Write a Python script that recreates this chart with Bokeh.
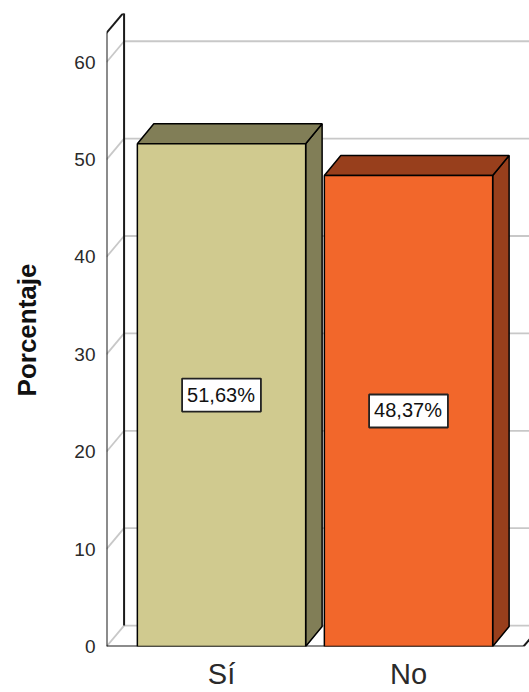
from bokeh.plotting import figure
from bokeh.models import ColumnDataSource, FixedTicker, Range1d
from bokeh.core.properties import value
from bokeh.embed import file_html
from bokeh.resources import INLINE

# ---- data ----
categories = ["Sí", "No"]
percentages = [51.63, 48.37]
y_ticks = [0, 10, 20, 30, 40, 50, 60]
axis_title = "Porcentaje"

# ---- styles ----
front_colors = ["#d0ca8f", "#f2672b"]
shade_colors = ["#817e57", "#983f1c"]
FONT = "Liberation Sans"
Y_TOP = 63.0            # top of the axis box
BAR_W = 0.9
X_LEFT, X_RIGHT = -0.615, 1.615
WALL_DX, WALL_DY = 0.094, 2.15
BAR_DX, BAR_DY = 0.088, 2.05

p = figure(width=529, height=692,
           x_range=Range1d(-0.615, 1.647), y_range=Range1d(0, 65.0),
           output_backend="svg", toolbar_location=None,
           min_border_left=106, min_border_right=0, min_border_top=13, min_border_bottom=45)
p.outline_line_color = None
p.xgrid.visible = False
p.ygrid.visible = False
p.background_fill_color = "white"
p.border_fill_color = "white"

# left axis: labels + title only
ya = p.yaxis[0]
ya.ticker = FixedTicker(ticks=y_ticks)
ya.axis_line_color = None
ya.major_tick_line_color = None
ya.minor_tick_line_color = None
ya.major_tick_out = 0
ya.major_tick_in = 0
ya.major_label_standoff = 11
ya.major_label_text_font = FONT
ya.major_label_text_font_size = "19px"
ya.major_label_text_color = "#2a2a2a"
ya.axis_label = axis_title
ya.axis_label_text_font = FONT
ya.axis_label_text_font_style = "bold"
ya.axis_label_text_font_size = "26px"
ya.axis_label_text_color = "#111111"
ya.axis_label_standoff = 29

# bottom axis: category names
xa = p.xaxis[0]
xa.ticker = FixedTicker(ticks=list(range(len(categories))))
xa.major_label_overrides = {i: c for i, c in enumerate(categories)}
xa.axis_line_color = None
xa.major_tick_line_color = None
xa.minor_tick_line_color = None
xa.major_tick_out = 0
xa.major_tick_in = 0
xa.major_label_standoff = 11
xa.major_label_text_font = FONT
xa.major_label_text_font_size = "29px"
xa.major_label_text_color = "#2a2a2a"

# ---- walls & grid ----
grid_col = "#c8c8c8"
edge_col = "#1a1a1a"
xb = X_LEFT + WALL_DX
p.segment(x0=[X_LEFT] * len(y_ticks), y0=y_ticks,
          x1=[xb] * len(y_ticks), y1=[t + WALL_DY for t in y_ticks],
          line_color=grid_col, line_width=1.8)
p.segment(x0=[xb] * len(y_ticks), y0=[t + WALL_DY for t in y_ticks],
          x1=[X_RIGHT + WALL_DX + 0.2] * len(y_ticks), y1=[t + WALL_DY for t in y_ticks],
          line_color=grid_col, line_width=1.8)
p.segment(x0=[X_LEFT, xb, X_LEFT, xb, X_LEFT, X_RIGHT],
          y0=[0, WALL_DY, Y_TOP, Y_TOP + WALL_DY, 0, 0],
          x1=[X_LEFT, xb, xb, X_RIGHT + WALL_DX + 0.2, X_RIGHT, X_RIGHT + WALL_DX],
          y1=[Y_TOP, Y_TOP + WALL_DY, Y_TOP + WALL_DY, Y_TOP + WALL_DY, 0, WALL_DY],
          line_color=edge_col, line_width=2)

# ---- bars ----
xs_c = list(range(len(categories)))
left = [c - BAR_W / 2 for c in xs_c]
right = [c + BAR_W / 2 for c in xs_c]

top_xs = [[l, l + BAR_DX, r + BAR_DX, r] for l, r in zip(left, right)]
top_ys = [[v, v + BAR_DY, v + BAR_DY, v] for v in percentages]
side_xs = [[r, r + BAR_DX, r + BAR_DX, r] for r in right]
side_ys = [[0, BAR_DY, v + BAR_DY, v] for v in percentages]

for i in range(len(categories)):
    p.patch(x=side_xs[i], y=side_ys[i], fill_color=shade_colors[i],
            line_color="black", line_width=1.5)
    p.patch(x=top_xs[i], y=top_ys[i], fill_color=shade_colors[i],
            line_color="black", line_width=1.5)
    p.quad(left=[left[i]], right=[right[i]], bottom=[0], top=[percentages[i]],
           fill_color=front_colors[i], line_color="black", line_width=1.5)

# ---- value labels ----
lab_src = ColumnDataSource(dict(
    x=xs_c,
    y=[v / 2 for v in percentages],
    t=[f"{v:.2f}".replace(".", ",") + "%" for v in percentages],
))
p.text(x="x", y="y", text="t", source=lab_src,
       text_align="center", text_baseline="middle",
       text_font=value(FONT), text_font_size="20px", text_color="#111111",
       background_fill_color="white", border_line_color="#222222",
       border_line_width=1.8, padding=[5, 6, 5, 6])

open("out.html", "w").write(file_html(p, INLINE))
